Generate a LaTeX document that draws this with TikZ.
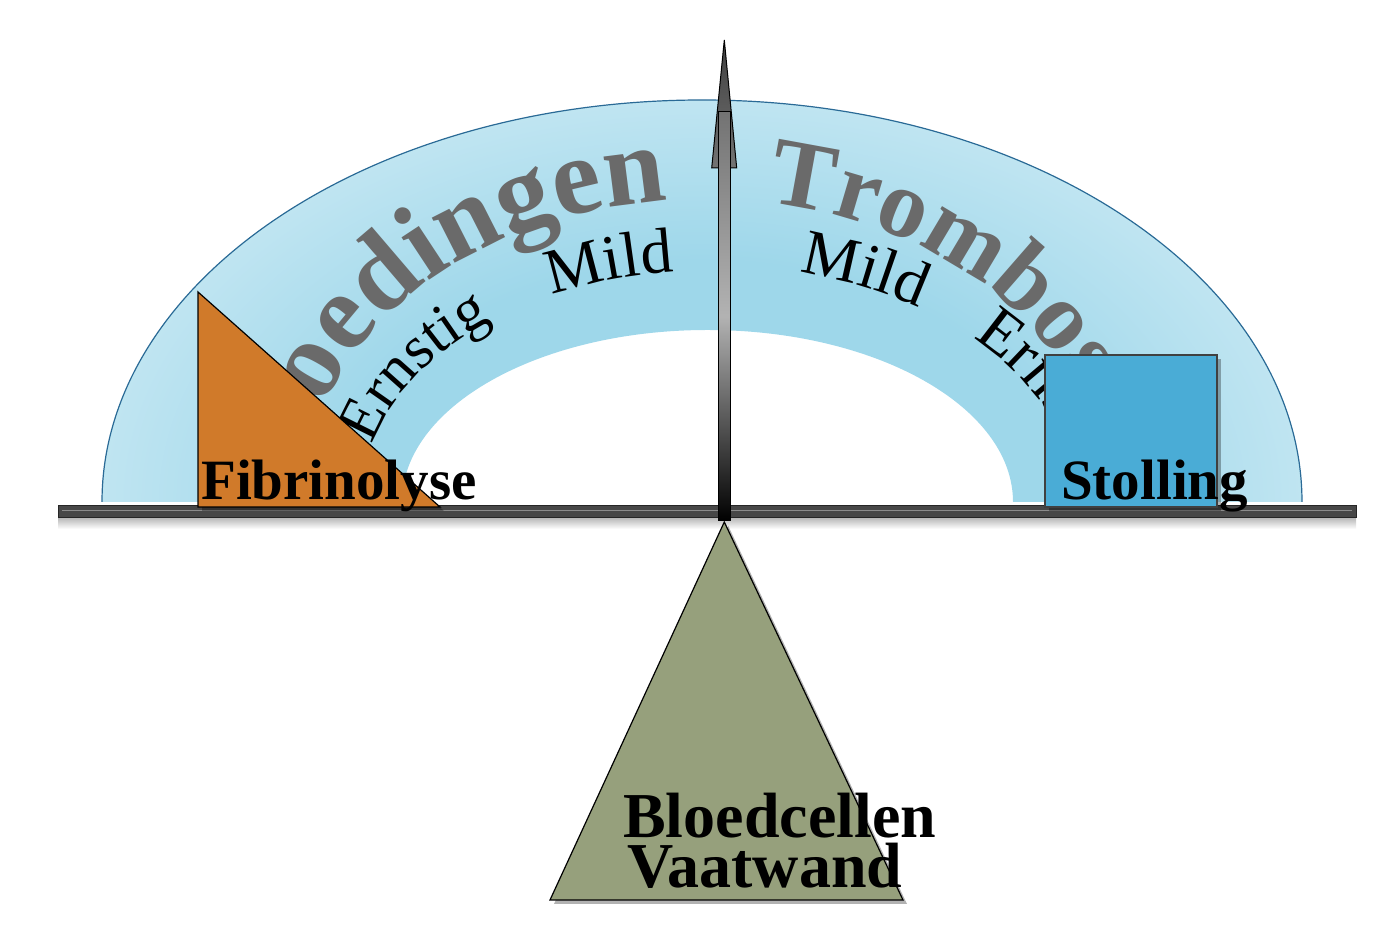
\documentclass[tikz,border=0pt]{standalone}
\usepackage{fontspec}
\setmainfont{Liberation Serif}
\usetikzlibrary{decorations.text,shadows}
\definecolor{bandin}{HTML}{9ED7EA}
\definecolor{bandout}{HTML}{E2F3F9}
\definecolor{bandedge}{HTML}{2A6A96}
\definecolor{bigtxt}{HTML}{6A6A6A}
\definecolor{orangefill}{HTML}{D07A2A}
\definecolor{bluefill}{HTML}{4AACD6}
\definecolor{greenfill}{HTML}{96A07C}
\definecolor{bargray}{HTML}{474747}
\pgfdeclareradialshading{bandshade}{\pgfpoint{0bp}{0bp}}{color(0bp)=(bandin); color(15bp)=(bandin); color(35.4bp)=(bandout); color(50bp)=(bandout)}
\newcommand\bigLfont{\fontsize{110}{110}\selectfont\bfseries}
\newcommand\bigRfont{\fontsize{97}{97}\selectfont\bfseries}
\newcommand\smLfont{\fontsize{61}{61}\selectfont}
\newcommand\smtxtfont{\fontsize{64}{64}\selectfont}
\begin{document}
\begin{tikzpicture}[x=1pt,y=1pt,
  shapeshadow/.style={drop shadow={shadow xshift=4pt, shadow yshift=-4pt, opacity=0.3, fill=black}},
  lbl/.style={inner sep=0pt, anchor=base west, font=\fontsize{57}{57}\selectfont\bfseries},
  lblbig/.style={inner sep=0pt, anchor=base west, font=\fontsize{64}{64}\selectfont\bfseries},
  bigarc/.style={decorate, decoration={text along path, text color=bigtxt, #1}},
  smallarc/.style={decorate, decoration={text along path, text color=black, #1}}
]
\useasboundingbox (0,0) rectangle (1390,934);

% band
\begin{scope}
\clip (102,432) arc[start angle=180,end angle=0,x radius=600,y radius=402] -- (1013,432) arc[start angle=0,end angle=180,x radius=305.5,y radius=172] -- cycle;
\shade[shading=bandshade] (702,432) ellipse[x radius=600,y radius=402];
\end{scope}
\draw[bandedge, line width=1.2pt] (102,432) arc[start angle=180,end angle=0,x radius=600,y radius=402];

% curved texts
\path[bigarc={text={|\bigLfont|Bloedingen}, text align=right}] (704,434) ++(186:400 and 301) arc[start angle=186,end angle=95.2,x radius=400,y radius=301];
\path[bigarc={text={|\bigRfont|Trombose}, text align=left}] (704,434) ++(81:400 and 301) arc[start angle=81,end angle=0,x radius=400,y radius=301];
\path[smallarc={text={|\smLfont|Ernstig}, text align=left}] (704,434) ++(166:342 and 229) arc[start angle=166,end angle=95,x radius=342,y radius=229];
\path[smallarc={text={|\smtxtfont|Mild}, text align=left}] (704,434) ++(116.4:342 and 229) arc[start angle=116.4,end angle=60,x radius=342,y radius=229];
\path[smallarc={text={|\smtxtfont|Mild}, text align=left}] (704,434) ++(75:370 and 236) arc[start angle=75,end angle=0,x radius=370,y radius=236];
\path[smallarc={text={|\smtxtfont|Ernstig}, text align=left}] (704,434) ++(43.4:370 and 236) arc[start angle=43.4,end angle=20,x radius=370,y radius=236];

% balance bar
\shade[top color=black!25, bottom color=white] (58,405) rectangle (1356,415);
\fill[bargray] (58,417) rectangle (1356,429);
\draw[black!45, line width=1.5pt] (62,423.5) -- (1352,423.5);
\draw[black!85, line width=0.8pt] (58,417) rectangle (1356,429);

% pointer arrow: head, then shaft on top
\shade[top color=black!75, bottom color=black!55, draw=black, line width=1pt]
  (711.7,766) -- (724.3,894) -- (736.7,766) -- cycle;
\shade[top color=black!55, bottom color=black, middle color=black!30, draw=black, line width=1pt]
  (718.3,413) -- (718.3,822) -- (730.7,822) -- (730.7,413) -- cycle;

% weights
\filldraw[fill=orangefill, draw=black, line width=1.2pt, shapeshadow] (198,642) -- (198,427) -- (440,427) -- cycle;
\filldraw[fill=bluefill, draw=black!75, line width=1.2pt, shapeshadow] (1045,427) rectangle (1217,579);
\filldraw[fill=greenfill, draw=black, line width=1.2pt, shapeshadow] (724.3,412) -- (550,34) -- (903,34) -- cycle;

% labels
\node[lbl] (fib) at (201,434) {Fibrinolyse};
\node[lbl] (stol) at (1061,434) {Stolling};
\node[lblbig] (bc) at (623,96) {Bloedcellen};
\node[lblbig] (vw) at (627,46) {Vaatwand};
\end{tikzpicture}
\end{document}
